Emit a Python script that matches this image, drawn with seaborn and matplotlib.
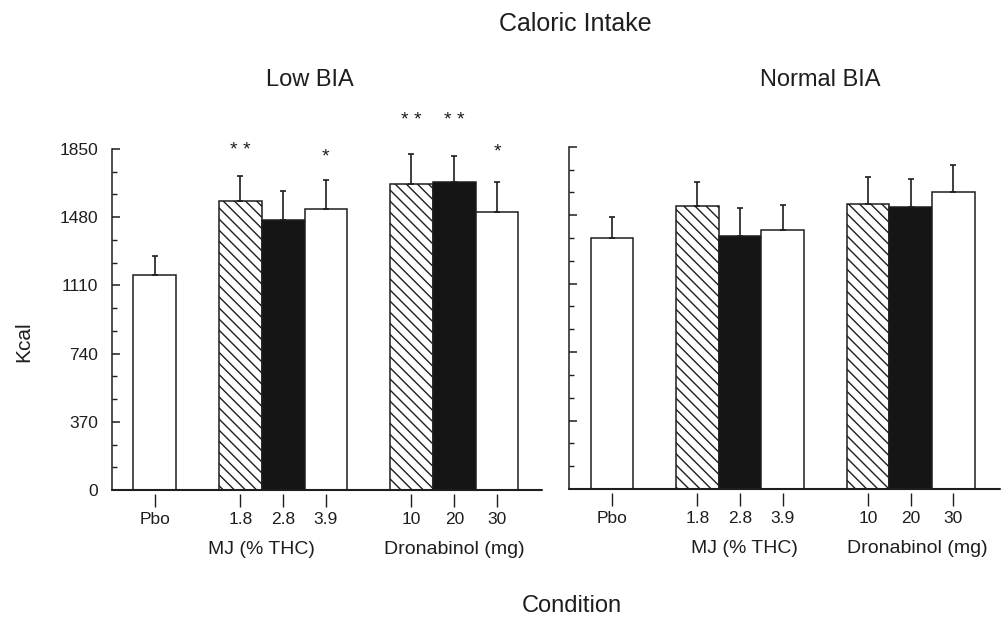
import matplotlib
matplotlib.use("Agg")
from matplotlib import pyplot as plt
from matplotlib.ticker import MultipleLocator, FixedLocator
import seaborn as sns
import numpy as np


# bar positions on the condition axis (gap between the groups)
positions = [0, 2, 3, 4, 6, 7, 8]
tick_labels = ["Pbo", "1.8", "2.8", "3.9", "10", "20", "30"]

# Kcal, mean and upper error (SEM)
low_mean = [1165, 1568, 1463, 1525, 1659, 1673, 1510]
low_err = [106, 137, 159, 155, 162, 139, 163]
normal_mean = [1358, 1531, 1368, 1402, 1539, 1524, 1605]
normal_err = [114, 130, 153, 135, 146, 153, 146]

# significance marks (left panel only)
low_stars = ["", "* *", "", "*", "* *", "* *", "*"]
low_star_y = [0, 1841, 0, 1805, 2004, 2004, 1832]

bar_style = ["white", "hatch", "black", "white", "hatch", "black", "white"]

y_ticks = [0, 370, 740, 1110, 1480, 1850]

FONT = "Liberation Sans"
INK = "#1e1e1e"


def draw_panel(ax, means, errs, group_x, show_labels):
    sns.barplot(x=positions, y=means, native_scale=True, width=1.0,
                color="white", edgecolor=INK, linewidth=1.1,
                errorbar=None, ax=ax)

    for patch, style in zip(ax.patches, bar_style):
        if style == "black":
            patch.set_facecolor("#151515")
        elif style == "hatch":
            patch.set_facecolor("white")
            patch.set_hatch("\\\\\\")
        else:
            patch.set_facecolor("white")

    # only the upper half of the error bars
    ax.errorbar(positions, means, yerr=[np.zeros(len(errs)), errs],
                fmt="none", ecolor=INK, elinewidth=1.2, capsize=2.5,
                capthick=1.2, zorder=3)

    ax.set_xlim(-1.0, 9.05)
    ax.set_ylim(0, 1850)

    sns.despine(ax=ax)
    # ticks hang a little below the axis line
    ax.spines["bottom"].set_position(("outward", 3))
    ax.spines["bottom"].set_visible(False)
    ax.axhline(0, color=INK, lw=1.5, clip_on=False, zorder=4)
    ax.spines["left"].set_linewidth(1.1)
    ax.spines["left"].set_color(INK)

    ax.xaxis.set_major_locator(FixedLocator(positions))
    ax.set_xticklabels(tick_labels, fontsize=12.5, color=INK)
    ax.tick_params(axis="x", direction="out", length=9, width=1.0,
                   pad=4, color=INK)

    ax.yaxis.set_major_locator(FixedLocator(y_ticks))
    ax.yaxis.set_minor_locator(MultipleLocator(370 / 3))
    ax.tick_params(axis="y", which="major", direction="in", length=6,
                   width=1.1, pad=10, labelsize=12.5, color=INK,
                   labelcolor=INK, labelleft=show_labels)
    ax.tick_params(axis="y", which="minor", direction="in", length=3.6,
                   width=1.0, color=INK)
    ax.set_xlabel("")
    ax.set_ylabel("")

    for gx, txt in zip(group_x, ["MJ (% THC)", "Dronabinol (mg)"]):
        ax.text(gx, -0.188, txt, transform=ax.get_xaxis_transform(),
                ha="center", va="baseline", fontsize=14, color=INK)


sns.set_theme(style="ticks")
plt.rcParams["font.family"] = [FONT, "DejaVu Sans"]

fig = plt.figure(figsize=(10.02, 6.19), dpi=100)
ax_low = fig.add_axes([0.1118, 0.2084, 0.4291, 0.5509])
ax_norm = fig.add_axes([0.5682, 0.2100, 0.4300, 0.5530])

draw_panel(ax_low, low_mean, low_err, [2.5, 7.0], True)
draw_panel(ax_norm, normal_mean, normal_err, [3.1, 7.15], False)
ax_norm.set_xlim(-1.0, 9.1)

for x, s, y in zip(positions, low_stars, low_star_y):
    if s:
        ax_low.text(x, y, s, ha="center", va="center", fontsize=14,
                    color=INK, clip_on=False)

fig.text(0.574, 0.950, "Caloric Intake", ha="center", va="baseline",
         fontsize=18, color=INK)
fig.text(0.309, 0.861, "Low BIA", ha="center", va="baseline",
         fontsize=17, color=INK)
fig.text(0.819, 0.861, "Normal BIA", ha="center", va="baseline",
         fontsize=17, color=INK)
fig.text(0.571, 0.012, "Condition", ha="center", va="baseline",
         fontsize=17, color=INK)
fig.text(0.024, 0.4475, "Kcal", ha="center", va="center", rotation=90,
         fontsize=15, color=INK)

fig.savefig("out.png", dpi=100)
